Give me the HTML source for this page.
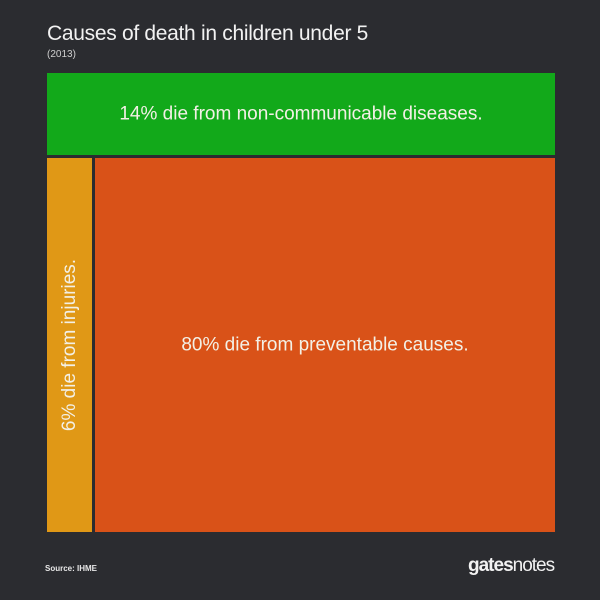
<!DOCTYPE html>
<html><head><meta charset="utf-8"><style>
body{margin:0;background:#2b2c30;}
#c{position:relative;width:600px;height:600px;background:#2b2c30;font-family:"Liberation Sans",sans-serif;overflow:hidden}
</style></head><body>
<div id="c">
<div style="position:absolute;left:47px;top:22px;color:#f2f2f2;font-size:21px;letter-spacing:-0.3px">Causes of death in children under 5</div>
<div style="position:absolute;left:47px;top:49px;color:#cfcfcf;font-size:10px">(2013)</div>
<svg id="tm" width="600" height="600" style="position:absolute;left:0;top:0"></svg>
<div style="position:absolute;left:45px;top:564px;color:#e8e8e8;font-size:8px;font-weight:bold">Source: IHME</div>
<div style="position:absolute;left:468px;top:555px;color:#f2f2f2;font-size:19px;letter-spacing:-1px"><b>gates</b>notes</div>
</div>
<script>
const categories=["14% die from non-communicable diseases.","6% die from injuries.","80% die from preventable causes."];
const shares=[14,6,80];
const colors=["#12a91a","#e09816","#d95218"];
const X0=47,Y0=73,W=508,H=459,GAP=3,K=1.27;
const svg=document.getElementById('tm');
const NS='http://www.w3.org/2000/svg';
const gH=Math.round((H*shares[0]/100)*K);
const restTotal=shares[1]+shares[2];
const iW=Math.round(W*shares[1]/restTotal*K);
const rects=[
 {x:X0,y:Y0,w:W,h:gH,rot:false},
 {x:X0,y:Y0+gH+GAP,w:iW,h:H-gH-GAP,rot:true},
 {x:X0+iW+GAP,y:Y0+gH+GAP,w:W-iW-GAP,h:H-gH-GAP,rot:false}
];
const names=['ncd','injuries','preventable'];
rects.forEach((r,i)=>{
 const re=document.createElementNS(NS,'rect');
 re.setAttribute('x',r.x);re.setAttribute('y',r.y);re.setAttribute('width',r.w);re.setAttribute('height',r.h);
 re.setAttribute('fill',colors[i]);
 
 
 svg.appendChild(re);
 const t=document.createElementNS(NS,'text');
 const cx=r.x+r.w/2,cy=r.y+r.h/2;
 t.setAttribute('x',cx);t.setAttribute('y',cy);
 t.setAttribute('text-anchor','middle');t.setAttribute('dominant-baseline','central');
 t.setAttribute('fill','#f3f0e6');t.setAttribute('font-size','19');
 t.setAttribute('font-family','Liberation Sans, sans-serif');
 if(r.rot)t.setAttribute('transform','rotate(-90 '+cx+' '+cy+')');
 t.textContent=categories[i];
 
 
 svg.appendChild(t);
});
</script>
</body></html>
